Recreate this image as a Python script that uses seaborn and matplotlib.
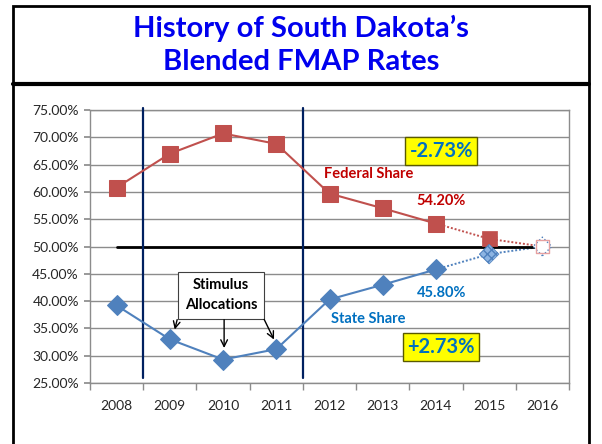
import matplotlib
matplotlib.use('Agg')
import matplotlib.pyplot as plt
import matplotlib.patches as patches
import seaborn as sns
import pandas as pd

# ─── DATA ─────────────────────────────────────────────
years = ['2008', '2009', '2010', '2011', '2012', '2013', '2014', '2015', '2016']
federal = [60.8, 67.0, 70.7, 68.8, 59.7, 57.0, 54.2, 51.4, 50.0]
state = [39.2, 33.0, 29.3, 31.2, 40.3, 43.0, 45.8, 48.6, 50.0]
y_ticks = [25, 30, 35, 40, 45, 50, 55, 60, 65, 70, 75]
N_ACTUAL = 7  # 2008-2014 actual, 2015-2016 projected

RED = '#C0504D'
BLUE = '#4F81BD'
RED_TXT = '#C00000'
BLUE_TXT = '#0070C0'
NAVY = '#002060'

df = pd.DataFrame({'x': range(len(years)), 'federal': federal, 'state': state})
actual = df.iloc[:N_ACTUAL]
proj = df.iloc[N_ACTUAL - 1:]

sns.set_theme(style='white')
plt.rcParams['font.family'] = ['Lato', 'DejaVu Sans']

fig = plt.figure(figsize=(6.02, 4.44), dpi=100)
ax = fig.add_axes([90 / 602, 1 - 383 / 444, 479 / 602, 273 / 444])

# gridlines
for v in y_ticks:
    ax.axhline(v, color='#8C8C8C', lw=1, zorder=0)

# projected dotted lines
sns.lineplot(data=proj, x='x', y='federal', ax=ax, color=RED, lw=1.4, linestyle=(0, (1, 1)), zorder=2)
sns.lineplot(data=proj, x='x', y='state', ax=ax, color=BLUE, lw=1.4, linestyle=(0, (1, 1)), zorder=2)

# 50% reference line
ax.plot([0, 8], [50, 50], color='black', lw=2, zorder=3)

# actual lines
sns.lineplot(data=actual, x='x', y='federal', ax=ax, color=RED, lw=1.5, marker='s',
             markersize=11, markeredgecolor=RED, zorder=4)
sns.lineplot(data=actual, x='x', y='state', ax=ax, color=BLUE, lw=1.5, marker='D',
             markersize=10, markeredgecolor=BLUE, zorder=4)

# 2015 patterned markers
plt.rcParams['hatch.color'] = 'white'
ax.scatter([7], [federal[7]], marker='s', s=120, facecolor=RED, edgecolor=RED, hatch='....', lw=0.5, zorder=5)
ax.scatter([7], [state[7]], marker='D', s=100, facecolor='#8DB4E2', edgecolor=BLUE, hatch='xxxx', lw=0.5, zorder=5)
# 2016 hollow markers
ax.scatter([8], [state[8]], marker='D', s=90, facecolor='white', edgecolor=BLUE, lw=1, linestyle=':', zorder=5)
ax.scatter([8], [federal[8]], marker='s', s=80, facecolor='none', edgecolor='#E6A0A0', lw=1, zorder=6)

# stimulus period lines
for xv in [0.5, 3.5]:
    ax.plot([xv, xv], [25.9, 75.4], color=NAVY, lw=1.6, zorder=3, clip_on=False)

ax.set_xlim(-0.5, 8.5)
ax.set_ylim(25, 75)
ax.set_yticks(y_ticks)
ax.set_yticklabels([f'{v:.2f}%' for v in y_ticks], fontsize=10)
ax.set_xticks(range(len(years)))
ax.set_xticklabels(years, fontsize=10)
ax.set_xticks([i - 0.5 for i in range(len(years) + 1)], minor=True)
ax.tick_params(axis='x', which='major', length=0, pad=12)
ax.tick_params(axis='x', which='minor', length=5, color='#8C8C8C', direction='out', bottom=True)
ax.tick_params(axis='y', length=4, color='#8C8C8C', direction='out', left=True, pad=4)
ax.set_xlabel('')
ax.set_ylabel('')
for s in ax.spines.values():
    s.set_color('#8C8C8C')
    s.set_linewidth(1)

# annotations
ax.text(4.74, 63.3, 'Federal Share', color=RED_TXT, fontsize=10.5, fontweight='bold', ha='center', va='center')
ax.text(6.1, 58.3, '54.20%', color=RED_TXT, fontsize=10.5, fontweight='bold', ha='center', va='center')
ax.text(6.1, 41.5, '45.80%', color=BLUE_TXT, fontsize=10.5, fontweight='bold', ha='center', va='center')
ax.text(4.73, 36.7, 'State Share', color=BLUE_TXT, fontsize=10.5, fontweight='bold', ha='center', va='center')
box = dict(boxstyle='square,pad=0.2', facecolor='#FFFF00', edgecolor='#5A5A00', lw=1)
ax.text(6.1, 67.5, '-2.73%', color=BLUE_TXT, fontsize=14.5, fontweight='bold', ha='center', va='center', bbox=box)
ax.text(6.1, 31.6, '+2.73%', color=BLUE_TXT, fontsize=14.5, fontweight='bold', ha='center', va='center', bbox=box)

ax.text(1.96, 41.1, 'Stimulus\nAllocations', color='black', fontsize=10.5, fontweight='bold', ha='center',
        va='center', linespacing=1.55,
        bbox=dict(boxstyle='square,pad=0.45', facecolor='white', edgecolor='#404040', lw=0.8))
arrow = dict(arrowstyle='->', color='black', lw=1)
ax.annotate('', xy=(1.08, 34.3), xytext=(1.15, 37.1), arrowprops=arrow)
ax.annotate('', xy=(2.02, 30.9), xytext=(2.02, 37.1), arrowprops=arrow)
ax.annotate('', xy=(2.98, 32.5), xytext=(2.75, 37.1), arrowprops=arrow)

# title and frame
fig.text(0.5, 1 - 45 / 444, "History of South Dakota’s\nBlended FMAP Rates", color='#0000EE',
         fontsize=21, fontweight='bold', ha='center', va='center', linespacing=1.3)
fig.add_artist(patches.Rectangle((13 / 602, -0.05), 576 / 602, 1.05 - 6 / 444, transform=fig.transFigure,
                                 fill=False, edgecolor='black', lw=2))
fig.add_artist(plt.Line2D([13 / 602, 589 / 602], [1 - 84 / 444, 1 - 84 / 444], transform=fig.transFigure,
                          color='black', lw=3))

fig.savefig('out.png', dpi=100)
